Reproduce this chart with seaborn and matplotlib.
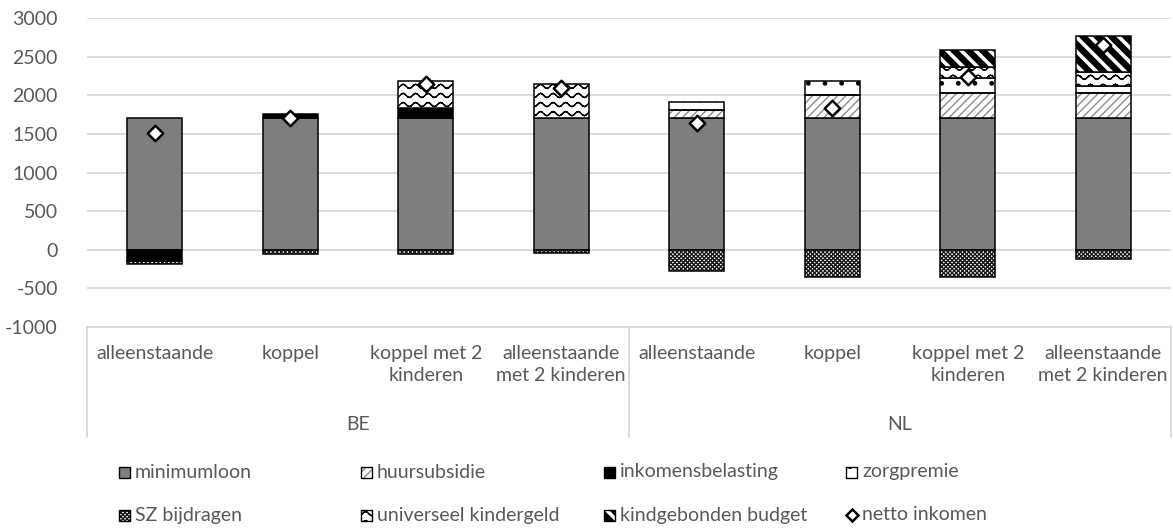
import warnings

import numpy as np
import matplotlib
matplotlib.use("Agg")
import matplotlib.pyplot as plt
import matplotlib.hatch as mhatch
from matplotlib.path import Path
from matplotlib.patches import Rectangle
from matplotlib.lines import Line2D
import seaborn as sns

warnings.filterwarnings("ignore", category=matplotlib.MatplotlibDeprecationWarning)

# ---------------------------------------------------------------- data
landen = ["BE", "NL"]
huishoudens = ["alleenstaande", "koppel", "koppel met 2\nkinderen",
               "alleenstaande\nmet 2 kinderen"]

minimumloon = [1700, 1700, 1700, 1700, 1700, 1700, 1700, 1700]
huursubsidie = [0, 0, 0, 0, 115, 300, 325, 325]
inkomensbelasting = [-140, 60, 130, 0, 0, 0, 0, 0]
zorgpremie = [0, 0, 0, 0, 100, 185, 195, 95]
sz_bijdragen = [-45, -55, -50, -45, -280, -350, -350, -115]
universeel_kindergeld = [0, 0, 360, 445, 0, 0, 150, 185]
kindgebonden_budget = [0, 0, 0, 0, 0, 0, 215, 460]
netto_inkomen = [1515, 1705, 2140, 2095, 1635, 1830, 2235, 2655]

y_ticks = [-1000, -500, 0, 500, 1000, 1500, 2000, 2500, 3000]


# ------------------------------------------------------ custom hatches
class WaveHatch(mhatch.HatchPatternBase):
    """'w': rows of small waves."""
    rows, periods, segs = 11, 8, 8

    def __init__(self, hatch, density):
        self.num_vertices = (2 * self.rows * self.periods * self.segs
                             if "w" in hatch else 0)

    def set_vertices_and_codes(self, vertices, codes):
        t = np.linspace(0.0, 1.0, self.periods * self.segs + 1)
        amp = 0.22 / self.rows
        starts, ends = [], []
        for r in range(self.rows):
            y = (r + 0.5) / self.rows + amp * np.sin(2 * np.pi * self.periods * t)
            pts = np.column_stack([t, y])
            starts.append(pts[:-1])
            ends.append(pts[1:])
        vertices[0::2] = np.vstack(starts)
        vertices[1::2] = np.vstack(ends)
        codes[0::2] = Path.MOVETO
        codes[1::2] = Path.LINETO


class BandHatch(mhatch.HatchPatternBase):
    """'k': wide black bands running down to the right."""
    n = 7

    def __init__(self, hatch, density):
        self.num_vertices = 5 * 3 * self.n if "k" in hatch else 0

    def set_vertices_and_codes(self, vertices, codes):
        w = 0.5 / self.n
        for i, k in enumerate(range(-self.n, 2 * self.n)):
            c = k / self.n
            vertices[5 * i:5 * i + 5] = [(-0.5, c + 0.5), (1.5, c - 1.5),
                                         (1.5, c - 1.5 + w), (-0.5, c + 0.5 + w),
                                         (-0.5, c + 0.5)]
            codes[5 * i:5 * i + 5] = [Path.MOVETO, Path.LINETO, Path.LINETO,
                                      Path.LINETO, Path.CLOSEPOLY]


mhatch._hatch_types.extend([WaveHatch, BandHatch])

# ---------------------------------------------------------------- style
sns.set_theme(style="white")
plt.rcParams["font.family"] = ["Lato", "DejaVu Sans"]
plt.rcParams["hatch.linewidth"] = 1.0
TXT = "#595959"
GRID = "#d9d9d9"
FS = 14

# name, values, face, hatch, hatch colour
layers = [
    ("minimumloon", minimumloon, "#7f7f7f", None, "black"),
    ("huursubsidie", huursubsidie, "white", "////", "#8c8c8c"),
    ("inkomensbelasting", inkomensbelasting, "black", None, "black"),
    ("zorgpremie", zorgpremie, "white", ".", "black"),
    ("SZ bijdragen", sz_bijdragen, "white", "xxxxxxxx", "#1a1a1a"),
    ("universeel kindergeld", universeel_kindergeld, "white", "w", "black"),
    ("kindgebonden budget", kindgebonden_budget, "white", "k", "black"),
]

W, H = 1173, 530
fig = plt.figure(figsize=(W / 100, H / 100), dpi=100)
ax_left, ax_right, ax_top, ax_bottom = 87, 1171, 18, 327
ax = fig.add_axes([ax_left / W, 1 - ax_bottom / H,
                   (ax_right - ax_left) / W, (ax_bottom - ax_top) / H])

x = np.arange(len(landen) * len(huishoudens))
width = 0.405
EDGE_LW = 1.1


def draw_segment(xs, heights, bottoms, face, hatch, hcol):
    if hatch is not None and hcol != "black":
        ax.bar(xs, heights, width, bottom=bottoms, color=face, edgecolor=hcol,
               hatch=hatch, linewidth=0, zorder=2)
        ax.bar(xs, heights, width, bottom=bottoms, fill=False,
               edgecolor="black", linewidth=EDGE_LW, zorder=3)
    else:
        ax.bar(xs, heights, width, bottom=bottoms, color=face,
               edgecolor="black", hatch=hatch, linewidth=EDGE_LW, zorder=2)


pos_base = np.zeros(len(x))
neg_base = np.zeros(len(x))
for name, vals, face, hatch, hcol in layers:
    v = np.asarray(vals, dtype=float)
    keep = v != 0
    base = np.where(v >= 0, pos_base, neg_base)
    draw_segment(x[keep], v[keep], base[keep], face, hatch, hcol)
    pos_base += np.where(v > 0, v, 0)
    neg_base += np.where(v < 0, v, 0)

sns.scatterplot(x=x, y=netto_inkomen, marker="D", s=62, color="white",
                edgecolor="black", linewidth=1.8, zorder=5, ax=ax, legend=False)

# ---------------------------------------------------------------- axes
ax.set_xlim(-0.5, len(x) - 0.5)
ax.set_ylim(y_ticks[0], y_ticks[-1])
ax.set_yticks(y_ticks)
ax.set_yticklabels([str(t) for t in y_ticks], fontsize=FS, color=TXT)
ax.tick_params(axis="y", length=0, pad=21)
ax.set_xticks([])
ax.set_xlabel("")
ax.set_ylabel("")
ax.set_axisbelow(True)
ax.yaxis.grid(True, color=GRID, linewidth=1.3)
for s in ("left", "top", "right"):
    ax.spines[s].set_visible(False)
ax.spines["bottom"].set_color(GRID)
ax.spines["bottom"].set_linewidth(1.3)

axh = ax_bottom - ax_top
xt = ax.get_xaxis_transform()


def yfrac(py):
    return (ax_bottom - py) / axh


labels = huishoudens * len(landen)
for xi, lab in zip(x, labels):
    ax.text(xi, yfrac(345), lab, transform=xt, ha="center", va="top",
            fontsize=FS, color=TXT, linespacing=1.35)

n = len(huishoudens)
for gi, land in enumerate(landen):
    ax.text(gi * n + (n - 1) / 2, yfrac(425), land, transform=xt,
            ha="center", va="center", fontsize=FS, color=TXT)

for gi in range(len(landen) + 1):
    ax.plot([gi * n - 0.5] * 2, [0, yfrac(437)], transform=xt, color=GRID,
            linewidth=1.3, clip_on=False)

# ---------------------------------------------------------------- legend
col_x = [119, 361, 604, 846]
row_y = [472, 515]
box = 11
entries = [(name, face, hatch, hcol) for name, _, face, hatch, hcol in layers]
slots = [(0, 0), (1, 0), (2, 0), (3, 0), (0, 1), (1, 1), (2, 1)]
for (ci, ri), (name, face, hatch, hcol) in zip(slots, entries):
    lx, ly = col_x[ci], row_y[ri]
    rect = [lx / W, 1 - (ly + box / 2) / H]
    if hatch is not None and hcol != "black":
        fig.add_artist(Rectangle(rect, box / W, box / H, transform=fig.transFigure,
                                 facecolor=face, edgecolor=hcol, hatch=hatch,
                                 linewidth=0))
        fig.add_artist(Rectangle(rect, box / W, box / H, transform=fig.transFigure,
                                 fill=False, edgecolor="black", linewidth=1.0))
    else:
        fig.add_artist(Rectangle(rect, box / W, box / H, transform=fig.transFigure,
                                 facecolor=face, edgecolor="black", hatch=hatch,
                                 linewidth=1.0))
    fig.text((lx + box + 5) / W, 1 - ly / H, name, ha="left", va="center",
             fontsize=FS, color=TXT)

lx, ly = col_x[3], row_y[1]
fig.add_artist(Line2D([(lx + box / 2) / W], [1 - ly / H], transform=fig.transFigure,
                      marker="D", markersize=6.5, markerfacecolor="white",
                      markeredgecolor="black", markeredgewidth=1.8, linestyle=""))
fig.text((lx + box + 5) / W, 1 - ly / H, "netto inkomen", ha="left",
         va="center", fontsize=FS, color=TXT)

fig.savefig("out.png", dpi=100)
